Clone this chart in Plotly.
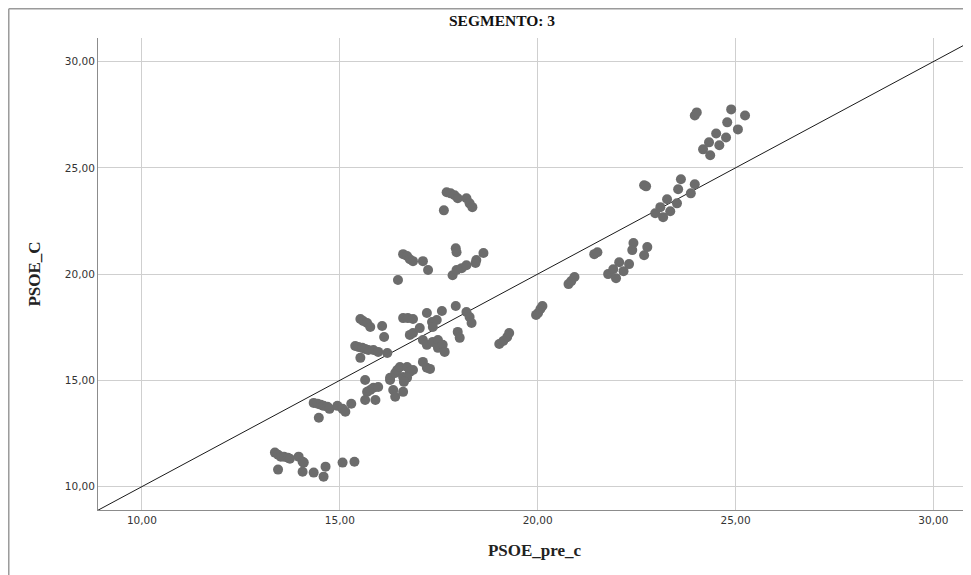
import plotly.graph_objects as go

# PSOE_pre_c (x) and PSOE_C (y) values
psoe_pre_c = [
    # y ~ 10.5-11.6
    13.36, 13.44, 13.51, 13.59, 13.69, 13.74, 13.44, 13.96, 14.06, 14.09, 14.06, 14.34, 14.64, 14.59, 15.07, 15.37,
    # y ~ 13.2-14
    14.34, 14.44, 14.52, 14.59, 14.69, 14.74, 14.47, 14.94, 15.07, 15.14, 15.29,
    # y ~ 16-17.9
    15.52, 15.59, 15.69, 15.77, 16.07, 16.12, 15.39, 15.47, 15.57, 15.64, 15.72, 15.85, 15.97, 15.52, 16.20,
    # y ~ 14-15
    15.64, 15.69, 15.64, 15.77, 15.85, 15.97, 15.90, 16.27, 16.35, 16.40, 16.60,
    # y ~ 15-16
    16.27, 16.40, 16.45, 16.52, 16.60, 16.70, 16.77, 16.70, 16.85, 16.62, 17.10, 17.20, 17.28,
    # y ~ 16.3-18.5
    16.60, 16.72, 16.85, 17.20, 17.58, 17.93, 17.33, 17.45, 17.35, 18.20, 18.28, 18.33, 17.98, 18.03,
    16.77, 16.85, 17.02, 17.10, 17.20, 17.35, 17.48, 17.48, 17.60, 17.65,
    # y ~ 19.7-21.2
    16.60, 16.70, 16.77, 16.85, 17.10, 17.23, 16.47, 17.93, 17.95, 17.85, 17.95, 18.08, 18.20, 18.45, 18.63, 18.43,
    # y ~ 23-23.9
    17.70, 17.80, 17.90, 17.98, 18.20, 18.28, 18.35, 17.63,
    # x ~ 19-19.3
    19.03, 19.13, 19.23, 19.28,
    # x ~ 20
    19.96, 20.01, 20.07, 20.12,
    # x ~ 20.8
    20.78, 20.85, 20.93,
    # x ~ 21.5
    21.43, 21.51,
    # x ~ 21.8-22.8
    21.78, 21.91, 21.98, 22.06, 22.17, 22.31, 22.42, 22.39, 22.69, 22.77,
    # y ~ 24.1
    22.69, 22.74,
    # x ~ 23-24
    22.97, 23.10, 23.27, 23.17, 23.35, 23.52, 23.55, 23.62, 23.87, 23.97,
    # x ~ 24-25.3
    23.97, 24.02, 24.18, 24.36, 24.33, 24.51, 24.59, 24.76, 24.79, 24.89, 25.06, 25.24,
]

psoe_c = [
    11.60, 11.50, 11.41, 11.41, 11.36, 11.31, 10.80, 11.41, 11.17, 11.13, 10.70, 10.66, 10.94, 10.47, 11.13, 11.17,
    13.94, 13.90, 13.85, 13.80, 13.76, 13.66, 13.24, 13.80, 13.66, 13.52, 13.90,
    17.89, 17.79, 17.70, 17.51, 17.56, 17.04, 16.62, 16.57, 16.53, 16.48, 16.43, 16.43, 16.34, 16.06, 16.29,
    15.02, 14.46, 14.08, 14.55, 14.65, 14.69, 14.08, 15.02, 14.55, 14.23, 14.46,
    15.12, 15.35, 15.49, 15.63, 15.16, 15.63, 15.40, 15.12, 15.49, 14.93, 15.87, 15.59, 15.54,
    17.93, 17.93, 17.89, 18.17, 18.26, 18.50, 17.75, 17.84, 17.51, 18.22, 17.98, 17.70, 17.28, 17.00,
    17.14, 17.23, 17.46, 16.90, 16.67, 16.81, 16.90, 16.53, 16.67, 16.34,
    20.94, 20.85, 20.70, 20.61, 20.61, 20.19, 19.72, 21.22, 21.03, 19.95, 20.19, 20.28, 20.42, 20.66, 20.99, 20.52,
    23.85, 23.80, 23.71, 23.57, 23.57, 23.33, 23.15, 23.00,
    16.71, 16.85, 17.04, 17.23,
    18.08, 18.17, 18.36, 18.50,
    19.53, 19.67, 19.86,
    20.94, 21.03,
    20.00, 20.23, 19.81, 20.56, 20.14, 20.47, 21.46, 21.13, 20.89, 21.27,
    24.18, 24.13,
    22.86, 23.15, 23.52, 22.68, 22.96, 23.33, 23.99, 24.46, 23.80, 24.23,
    27.46, 27.61, 25.87, 25.59, 26.20, 26.62, 26.06, 26.43, 27.14, 27.75, 26.81, 27.46,
]

tick_vals = [10, 15, 20, 25, 30]
x_range = [8.89, 30.95]
y_range = [8.90, 31.11]

fig = go.Figure()

# reference line y = x across the plotted range
fig.add_trace(go.Scatter(
    x=x_range, y=x_range, mode="lines",
    line=dict(color="#1a1a1a", width=1), hoverinfo="skip",
))

fig.add_trace(go.Scatter(
    x=psoe_pre_c, y=psoe_c, mode="markers",
    marker=dict(color="#6c6c6c", size=10, line=dict(width=0)),
))

axis_common = dict(
    tickvals=tick_vals, tickformat=".2f",
    showgrid=True, gridcolor="#cfcfcf", gridwidth=1,
    showline=True, linecolor="#8c8c8c", linewidth=1,
    zeroline=False, ticks="",
    tickfont=dict(family="DejaVu Sans", size=10.5, color="#333333"),
)

fig.update_xaxes(
    range=x_range, **axis_common,
    title=dict(text="PSOE_pre_c", standoff=19,
               font=dict(family="Liberation Serif", size=17, color="#222222", weight="bold")),
)
fig.update_yaxes(
    range=y_range, **axis_common,
    title=dict(text="PSOE_C", standoff=19,
               font=dict(family="Liberation Serif", size=17, color="#222222", weight="bold")),
)

# the page body adds an 8px offset, so the figure is sized to the visible area
fig.update_layout(
    width=963, height=567,
    margin=dict(l=90, r=0, t=30, b=65, autoexpand=False),
    paper_bgcolor="white", plot_bgcolor="white",
    showlegend=False,
    separators=",.",
    title=dict(text="<b>SEGMENTO: 3</b>", x=0.4628, xref="paper", xanchor="center",
               y=0.977, yref="container", yanchor="middle",
               font=dict(family="Liberation Serif", size=15.5, color="#111111")),
    shapes=[
        dict(type="line", xref="paper", yref="paper", x0=-0.1022, x1=1.0, y0=1.062, y1=1.062,
             line=dict(color="#9a9a9a", width=1.5)),
        dict(type="line", xref="paper", yref="paper", x0=-0.1022, x1=-0.1022, y0=1.062, y1=-0.14,
             line=dict(color="#9a9a9a", width=1.5)),
    ],
)

fig.write_html("out.html")
